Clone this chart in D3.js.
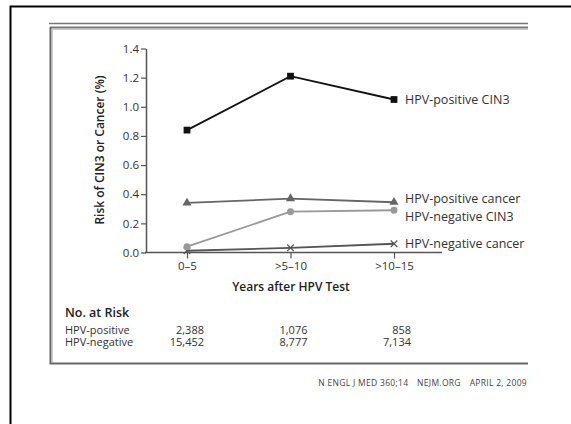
<!DOCTYPE html>
<html>
  <head>
    <meta charset="utf-8">
    <title>Risk of CIN3 or Cancer</title>
    <script type="text/javascript" src="https://d3js.org/d3.v7.min.js"></script>
    <style>
      body { margin: 0; background: #fff; }
      text { font-family: "Open Sans", "Noto Sans", sans-serif; fill: #333; }
    </style>
  </head>
  <body>
    <svg width="571" height="424"></svg>
    <script>
      // data
      var categories = ["0\u20135", ">5\u201310", ">10\u201315"];
      var posCin3 = [0.84, 1.21, 1.05];
      var posCancer = [0.34, 0.37, 0.345];
      var negCin3 = [0.04, 0.28, 0.29];
      var negCancer = [0.012, 0.032, 0.06];
      var seriesNames = ["HPV-positive CIN3", "HPV-positive cancer", "HPV-negative CIN3", "HPV-negative cancer"];
      var yTicks = [0, 0.2, 0.4, 0.6, 0.8, 1.0, 1.2, 1.4];
      var riskRows = ["HPV-positive", "HPV-negative"];
      var riskPos = ["2,388", "1,076", "858"];
      var riskNeg = ["15,452", "8,777", "7,134"];

      var svg = d3.select("svg");

      // page frame
      svg.append("path").attr("d", "M10.5,424V6.5H571")
        .attr("fill", "none").attr("stroke", "#000").attr("stroke-width", 2);
      svg.append("line").attr("x1", 49).attr("x2", 528).attr("y1", 23.5).attr("y2", 23.5)
        .attr("stroke", "#777").attr("stroke-width", 1.5);
      svg.append("line").attr("x1", 50).attr("x2", 528).attr("y1", 27.5).attr("y2", 27.5)
        .attr("stroke", "#777").attr("stroke-width", 2);
      svg.append("line").attr("x1", 52).attr("x2", 528).attr("y1", 29.5).attr("y2", 29.5)
        .attr("stroke", "#ccc").attr("stroke-width", 1);
      svg.append("path").attr("d", "M50.5,27V363.5H528")
        .attr("fill", "none").attr("stroke", "#666").attr("stroke-width", 2);
      svg.append("line").attr("x1", 52.5).attr("x2", 52.5).attr("y1", 29).attr("y2", 362)
        .attr("stroke", "#ccc").attr("stroke-width", 1);

      var x = d3.scalePoint().domain(categories).range([187, 394]);
      var y = d3.scaleLinear().domain([0, 1.4]).range([252.5, 48.5]);

      var g = svg.append("g");

      // y axis
      var yAxis = g.append("g").attr("transform", "translate(146,0)")
        .call(d3.axisLeft(y).tickValues(yTicks).tickFormat(d3.format(".1f")).tickSize(5).tickSizeOuter(0).tickPadding(2));
      yAxis.select(".domain").attr("stroke", "#555").attr("stroke-width", 1.5);
      yAxis.selectAll(".tick line").attr("stroke", "#555").attr("stroke-width", 1.2);
      yAxis.selectAll(".tick text").style("font-size", "11.5px").style("fill", "#333").style("font-family", "Open Sans");

      // x axis
      var xAxis = g.append("g").attr("transform", "translate(0,252.5)")
        .call(d3.axisBottom(x).tickSize(6).tickSizeOuter(0).tickPadding(3));
      xAxis.select(".domain").remove();
      xAxis.append("line").attr("x1", 145).attr("x2", 442).attr("stroke", "#555").attr("stroke-width", 1.5);
      xAxis.selectAll(".tick line").attr("stroke", "#555").attr("stroke-width", 1.2);
      xAxis.selectAll(".tick text").style("font-size", "11.5px").style("fill", "#333").style("font-family", "Open Sans");

      // axis titles
      g.append("text").attr("transform", "translate(104,150) rotate(-90)")
        .attr("text-anchor", "middle").style("font-size", "12px").style("font-weight", 600)
        .style("fill", "#222").text("Risk of CIN3 or Cancer (%)");
      g.append("text").attr("x", 291).attr("y", 291)
        .attr("text-anchor", "middle").style("font-size", "12px").style("font-weight", 600)
        .style("fill", "#222").text("Years after HPV Test");

      var line = d3.line().x(function(d, i) { return x(categories[i]); }).y(function(d) { return y(d); });

      var series = [
        { name: seriesNames[0], values: posCin3, color: "#111", marker: "square", labelDy: 0 },
        { name: seriesNames[1], values: posCancer, color: "#666", marker: "triangle", labelDy: -4 },
        { name: seriesNames[2], values: negCin3, color: "#999", marker: "circle", labelDy: 6 },
        { name: seriesNames[3], values: negCancer, color: "#555", marker: "cross", labelDy: 0 }
      ];

      // draw lower series first so the darkest stays on top
      series.slice().reverse().forEach(function(s) {
        g.append("path").datum(s.values).attr("d", line)
          .attr("fill", "none").attr("stroke", s.color).attr("stroke-width", 1.8);

        var sym = { square: d3.symbolSquare, triangle: d3.symbolTriangle, circle: d3.symbolCircle, cross: d3.symbolX }[s.marker];
        var size = { square: 46, triangle: 36, circle: 38, cross: 30 }[s.marker];
        g.selectAll(null).data(s.values).enter().append("path")
          .attr("transform", function(d, i) { return "translate(" + x(categories[i]) + "," + y(d) + ")"; })
          .attr("d", d3.symbol().type(sym).size(size))
          .attr("fill", s.marker == "cross" ? "none" : s.color)
          .attr("stroke", s.color)
          .attr("stroke-width", s.marker == "cross" ? 1.2 : 0);

        g.append("text").attr("x", 405).attr("y", y(s.values[2]) + s.labelDy)
          .attr("dy", "0.35em").style("font-size", "12.5px").style("fill", "#333")
          .text(s.name);
      });

      // number at risk table
      g.append("text").attr("x", 65).attr("y", 317).style("font-size", "12.5px")
        .style("font-weight", 600).style("fill", "#222").text("No. at Risk");
      var rows = [riskPos, riskNeg];
      rows.forEach(function(r, j) {
        var yy = 333.5 + j * 12.5;
        g.append("text").attr("x", 65).attr("y", yy).style("font-size", "11px").text(riskRows[j]);
        g.selectAll(null).data(r).enter().append("text")
          .attr("x", function(d, i) { return x(categories[i]) + 17; })
          .attr("y", yy).attr("text-anchor", "end").style("font-size", "11px")
          .text(function(d) { return d; });
      });

      // footer
      svg.append("text").attr("x", 527).attr("y", 386).attr("text-anchor", "end")
        .style("font-size", "8.5px").style("letter-spacing", "0.3px").style("fill", "#444")
        .text("N ENGL J MED 360;14\u2003NEJM.ORG\u2003APRIL 2, 2009");
    </script>
  </body>
</html>
